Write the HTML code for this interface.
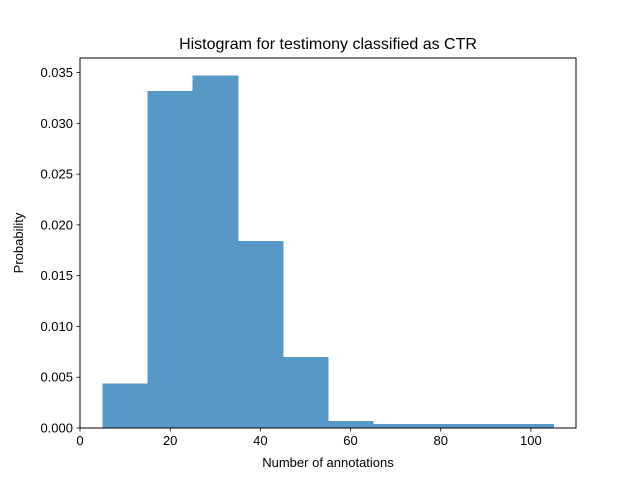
<!DOCTYPE html>
<html><head><meta charset="utf-8"><style>
body{margin:0;background:#fff;}
svg text{font-family:"Liberation Sans","DejaVu Sans",sans-serif;fill:#000;}
</style></head><body>
<svg id="chart" width="640" height="480" xmlns="http://www.w3.org/2000/svg">
<rect width="640" height="480" fill="#fff"/>
<text x="328" y="49" font-size="16" text-anchor="middle">Histogram for testimony classified as CTR</text>
<g id="bars" shape-rendering="crispEdges"></g>
<g id="axes"></g>
<text x="328" y="467" font-size="13" text-anchor="middle">Number of annotations</text>
<text transform="translate(23,243) rotate(-90)" font-size="13" text-anchor="middle">Probability</text>
</svg>
<script>
const binEdges = [5,15,25,35,45,55,65,75,85,95,105];
const probabilities = [0.0044,0.0332,0.0347,0.0184,0.0070,0.0007,0.0004,0.0004,0.0004,0.0004];
const xTicks = [0,20,40,60,80,100];
const yTicks = [0,0.005,0.010,0.015,0.020,0.025,0.030,0.035];
const yTickLabels = ["0.000","0.005","0.010","0.015","0.020","0.025","0.030","0.035"];

const L=80,R=576,T=58,B=428;
const xMax=110, yMax=Math.max(...probabilities)*1.05;
const xs=v=>L+(v/xMax)*(R-L);
const ys=v=>B-(v/yMax)*(B-T);
const NS="http://www.w3.org/2000/svg";
const bars=document.getElementById('bars');
probabilities.forEach((p,i)=>{
  const r=document.createElementNS(NS,'rect');
  const x0=xs(binEdges[i]),x1=xs(binEdges[i+1]);
  r.setAttribute('x',x0);r.setAttribute('width',x1-x0+0.5);
  r.setAttribute('y',ys(p));r.setAttribute('height',B-ys(p));
  r.setAttribute('fill','#5799c6');
  
  
  bars.appendChild(r);
});
const ax=document.getElementById('axes');
const frame=document.createElementNS(NS,'rect');
frame.setAttribute('x',L);frame.setAttribute('y',T);frame.setAttribute('width',R-L);frame.setAttribute('height',B-T);
frame.setAttribute('fill','none');frame.setAttribute('stroke','#000');frame.setAttribute('stroke-width','1');
frame.setAttribute('shape-rendering','crispEdges');


ax.appendChild(frame);
xTicks.forEach(t=>{
  const l=document.createElementNS(NS,'line');
  l.setAttribute('x1',xs(t));l.setAttribute('x2',xs(t));l.setAttribute('y1',B);l.setAttribute('y2',B+3.5);
  l.setAttribute('stroke','#000');l.setAttribute('stroke-width','0.8');
  
  
  ax.appendChild(l);
  const tx=document.createElementNS(NS,'text');
  tx.setAttribute('x',xs(t));tx.setAttribute('y',B+17);tx.setAttribute('font-size','13');tx.setAttribute('text-anchor','middle');
  tx.textContent=t;
  
  
  ax.appendChild(tx);
});
yTicks.forEach((t,i)=>{
  const l=document.createElementNS(NS,'line');
  l.setAttribute('x1',L-3.5);l.setAttribute('x2',L);l.setAttribute('y1',ys(t));l.setAttribute('y2',ys(t));
  l.setAttribute('stroke','#000');l.setAttribute('stroke-width','0.8');
  
  
  ax.appendChild(l);
  const tx=document.createElementNS(NS,'text');
  tx.setAttribute('x',L-7);tx.setAttribute('y',ys(t)+4.5);tx.setAttribute('font-size','13');tx.setAttribute('text-anchor','end');
  tx.textContent=yTickLabels[i];
  
  
  ax.appendChild(tx);
});
</script>
</body></html>
